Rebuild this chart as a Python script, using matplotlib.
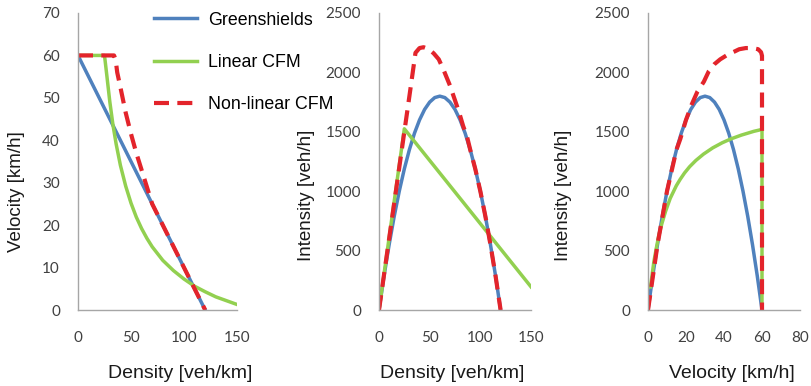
import matplotlib
matplotlib.use('Agg')
import matplotlib.pyplot as plt
from matplotlib.lines import Line2D

# Panel 1: velocity vs density
gs_k = [0, 120]
gs_v = [60, 0]
lin_k = [0, 25, 27, 30, 33, 36, 40, 45, 50, 55, 60, 65, 70, 80, 90, 100, 110, 120, 130, 140, 150]
lin_v = [60, 60, 55.7, 49.1, 43.6, 39.1, 34.1, 29.2, 25.2, 21.9, 19.2, 16.9, 14.9, 11.7, 9.3, 7.3,
         5.6, 4.3, 3.1, 2.2, 1.3]
nl_k = [0, 34, 35.5, 37, 40, 45, 50, 55, 60, 65, 70, 80, 90, 100, 110, 120]
nl_v = [60, 60, 59, 56, 52.5, 46.5, 41.5, 37, 33, 29, 25, 20, 15, 10, 5, 0]

# Panel 2: intensity vs density (Greenshields flow shared with panel 3)
gs_fk = [0, 5, 10, 15, 20, 25, 30, 35, 40, 45, 50, 55, 60, 65, 70, 75, 80, 85, 90, 95, 100, 105,
         110, 115, 120]
gs_q = [0, 288, 550, 788, 1000, 1188, 1350, 1488, 1600, 1688, 1750, 1788, 1800, 1788, 1750, 1688,
        1600, 1488, 1350, 1188, 1000, 788, 550, 288, 0]
lin_fk = [0, 25, 150]
lin_q = [0, 1525, 195]
nl_fk = [0, 10, 20, 30, 36, 40, 44, 49, 54, 59, 64, 70, 74, 79, 83, 87, 90, 95, 100, 105, 110,
         115, 120]
nl_q = [0, 600, 1200, 1800, 2165, 2205, 2212, 2197, 2160, 2110, 2015, 1890, 1790, 1665, 1550,
        1455, 1350, 1188, 1000, 788, 550, 288, 0]

# Panel 3: intensity vs velocity
gs_fv = [0, 2.5, 5, 7.5, 10, 12.5, 15, 17.5, 20, 22.5, 25, 27.5, 30, 32.5, 35, 37.5, 40, 42.5, 45,
         47.5, 50, 52.5, 55, 57.5, 60]
lin_fv = [1.3, 2.2, 3.1, 4.3, 5.6, 7.3, 9.3, 11.7, 14.9, 16.9, 19.2, 21.9, 25.2, 29.2, 34.1, 39.1,
          43.6, 49.1, 55.7, 60, 60]
lin_vq = [195, 301, 408, 514, 621, 727, 833, 940, 1046, 1099, 1153, 1206, 1259, 1312, 1365, 1408,
          1440, 1472, 1504, 1520, 0]
nl_fv = [0, 5, 10, 15, 17, 20, 23, 26, 29.4, 32, 35, 38, 42, 45.3, 48, 51.5, 55, 58, 59.5, 60, 60]
nl_vq = [0, 550, 1000, 1350, 1440, 1600, 1730, 1838, 1922, 2010, 2070, 2110, 2150, 2174, 2195,
         2205, 2205, 2195, 2170, 2140, 0]

labels = ['Greenshields', 'Linear CFM', 'Non-linear CFM']
blue = '#4F81BD'
green = '#92D050'
red = '#E3242B'

plt.rcParams['font.family'] = ['Liberation Sans', 'DejaVu Sans']

fig = plt.figure(figsize=(8.12, 3.86), dpi=100)
W, H = 812, 386

def make_ax(x0, x1, y0=13, y1=310):
    return fig.add_axes([x0 / W, 1 - y1 / H, (x1 - x0) / W, (y1 - y0) / H])

ax1 = make_ax(78, 237)
ax2 = make_ax(379, 531)
ax3 = make_ax(648, 800)

def style(ax, xlabel, ylabel, xl_x, yl_x, yl_y):
    for s in ['top', 'right']:
        ax.spines[s].set_visible(False)
    for s in ['left', 'bottom']:
        ax.spines[s].set_color('#a6a6a6')
        ax.spines[s].set_linewidth(1)
    ax.tick_params(length=0, labelsize=11, labelcolor='#404040')
    ax.tick_params(axis='x', pad=15)
    ax.tick_params(axis='y', pad=13)
    for t in ax.get_xticklabels() + ax.get_yticklabels():
        t.set_family('Lato')
    ax.set_xlabel(xlabel, fontsize=14, color='#1a1a1a', va='center')
    ax.set_ylabel(ylabel, fontsize=13.5, color='#1a1a1a', va='center')
    ax.xaxis.set_label_coords(xl_x, (310 - 373) / 297)
    ax.yaxis.set_label_coords(yl_x, yl_y)

lw = 2.5
rlw = 3.0
dash = (0, (3.6, 2.0))

ax1.plot(gs_k, gs_v, color=blue, lw=lw)
ax1.plot(lin_k, lin_v, color=green, lw=lw)
ax1.plot(nl_k, nl_v, color=red, lw=rlw, linestyle=dash)
ax1.set_xlim(0, 150)
ax1.set_ylim(0, 70)
ax1.set_xticks([0, 50, 100, 150])
ax1.set_yticks(range(0, 71, 10))
style(ax1, 'Density [veh/km]', 'Velocity [km/h]', 0.64, -0.384, 0.40)

ax2.plot(gs_fk, gs_q, color=blue, lw=lw)
ax2.plot(lin_fk, lin_q, color=green, lw=lw)
ax2.plot(nl_fk, nl_q, color=red, lw=rlw, linestyle=dash)
ax2.set_xlim(0, 150)
ax2.set_ylim(0, 2500)
ax2.set_xticks([0, 50, 100, 150])
ax2.set_yticks(range(0, 2501, 500))
style(ax2, 'Density [veh/km]', 'Intensity [veh/h]', 0.48, -0.474, 0.387)

ax3.plot(gs_fv, gs_q, color=blue, lw=lw)
ax3.plot(lin_fv, lin_vq, color=green, lw=lw)
ax3.plot(nl_fv, nl_vq, color=red, lw=rlw, linestyle=dash)
ax3.set_xlim(0, 80)
ax3.set_ylim(0, 2500)
ax3.set_xticks(range(0, 81, 20))
ax3.set_yticks(range(0, 2501, 500))
style(ax3, 'Velocity [km/h]', 'Intensity [veh/h]', 0.55, -0.559, 0.387)

handles = [Line2D([], [], color=blue, lw=lw),
           Line2D([], [], color=green, lw=lw),
           Line2D([], [], color=red, lw=rlw, linestyle=dash)]
fig.legend(handles, labels, loc='upper left', bbox_to_anchor=(143 / W, 1 - 1 / H),
           frameon=False, fontsize=12.8, handlelength=2.45, handletextpad=0.6,
           labelspacing=1.42, borderpad=0.1)

fig.savefig('out.png', dpi=100)
